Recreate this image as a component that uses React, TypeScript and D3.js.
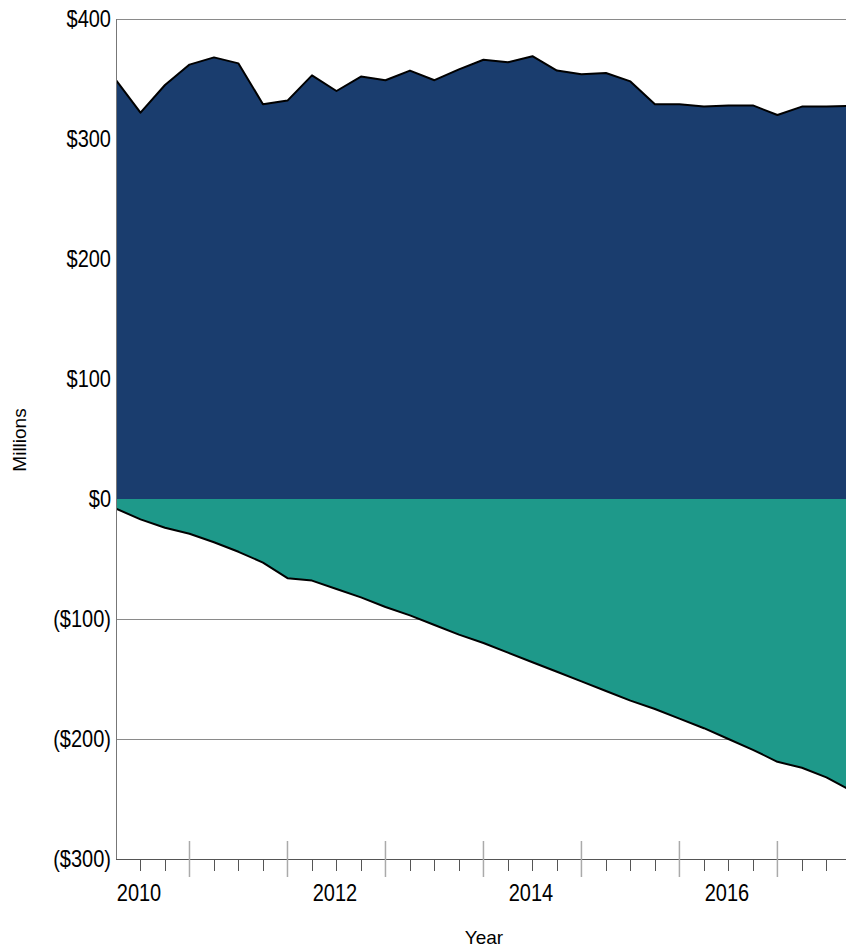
import * as d3 from "d3";
import React from "react";

// quarterly values, millions of dollars
const quarters = d3.range(31); // quarter index from the left edge of the plot
const inflows = [349, 322, 345, 362, 368, 363, 329, 332, 353, 340, 352, 349, 357, 349, 358, 366,
  364, 369, 357, 354, 355, 348, 329, 329, 327, 328, 328, 320, 327, 327, 327.5];
const outflows = [-8, -17, -24, -29, -36, -44, -53, -66, -68, -75, -82, -90, -97, -105, -113, -120,
  -128, -136, -144, -152, -160, -168, -175, -183, -191, -200, -209, -219, -224, -232, -243];

const yTicks = [400, 300, 200, 100, 0, -100, -200, -300];
const yearLabels = ["2010", "2012", "2014", "2016"];
const yearLabelQuarter = [1, 9, 17, 25]; // middle of each labelled year
const yearBoundaries = [3, 7, 11, 15, 19, 23, 27];

const W = 846, H = 950;
const left = 116, right = 846, top = 19, bottom = 859;

const fmt = (v: number) => (v < 0 ? `($${-v})` : `$${v}`);

// tick labels in the original are drawn a bit taller than wide
const TallText = ({ x, y, anchor, children }: { x: number; y: number; anchor: string; children: React.ReactNode }) => (
  <text transform={`translate(${x},${y}) scale(1,1.2)`} textAnchor={anchor} fontSize={20} fill="#000">
    {children}
  </text>
);

export default function App() {
  const x = d3.scaleLinear().domain([0, 29.8]).range([left, right]);
  const y = d3.scaleLinear().domain([-300, 400]).range([bottom, top]);

  const area = d3.area<number>()
    .x((_d, i) => x(quarters[i]))
    .y0(y(0))
    .y1((d) => y(d));
  const line = d3.line<number>()
    .x((_d, i) => x(quarters[i]))
    .y((d) => y(d));

  const font = "Liberation Sans, Arial, sans-serif";

  return (
    <svg width={W} height={H} style={{ position: "absolute", left: 0, top: 0 }} fontFamily={font}>
      <defs>
        <clipPath id="plot">
          <rect x={left} y={top - 2} width={right - left} height={bottom - top + 2} />
        </clipPath>
      </defs>

      {/* grid */}
      {yTicks.filter((t) => t > -300).map((t) => (
        <line key={t} x1={left} x2={right} y1={y(t) + 0.5} y2={y(t) + 0.5} stroke="#8a8a8a" strokeWidth={1} />
      ))}

      <g clipPath="url(#plot)">
        <path d={area(inflows) || ""} fill="#1a3d6e" />
        <path d={area(outflows) || ""} fill="#1e998a" />
        <path d={line(inflows) || ""} fill="none" stroke="#000" strokeWidth={2} strokeLinejoin="round" />
        <path d={line(outflows) || ""} fill="none" stroke="#000" strokeWidth={2} strokeLinejoin="round" />
      </g>

      {/* axes */}
      <line x1={left + 0.5} x2={left + 0.5} y1={top} y2={bottom} stroke="#777" strokeWidth={1} />
      <line x1={left} x2={right} y1={bottom + 0.5} y2={bottom + 0.5} stroke="#555" strokeWidth={1} />

      {quarters.filter((q) => q > 0 && x(q) < right && !yearBoundaries.includes(q)).map((q) => (
        <line key={q} x1={Math.round(x(q)) + 0.5} x2={Math.round(x(q)) + 0.5} y1={bottom} y2={bottom + 12} stroke="#555" strokeWidth={1} />
      ))}
      {yearBoundaries.map((q) => (
        <line key={q} x1={x(q)} x2={x(q)} y1={bottom - 18} y2={bottom + 18} stroke="#aaa" strokeWidth={1.5} />
      ))}

      {yTicks.map((t) => (
        <TallText key={t} x={111} y={y(t) + 7.5} anchor="end">{fmt(t)}</TallText>
      ))}

      {yearLabels.map((lab, i) => (
        <TallText key={lab} x={x(yearLabelQuarter[i]) - 1.5} y={900.5} anchor="middle">{lab}</TallText>
      ))}

      <text x={484} y={944} textAnchor="middle" fontSize={19} fill="#000">Year</text>
      <text transform="translate(26, 440) rotate(-90)" textAnchor="middle" fontSize={19} fill="#000">Millions</text>
    </svg>
  );
}
